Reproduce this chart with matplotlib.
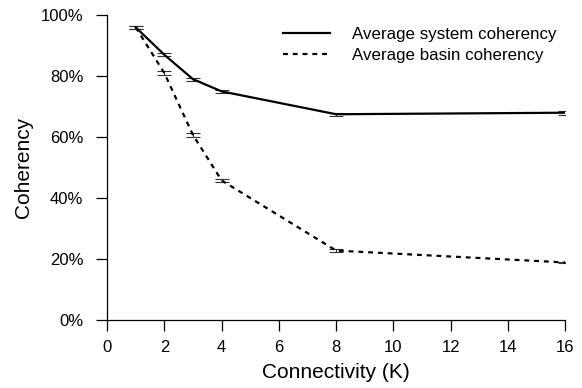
import matplotlib
matplotlib.use("Agg")
import matplotlib.pyplot as plt
from matplotlib.ticker import FuncFormatter
from matplotlib.lines import Line2D

plt.rcParams['font.family'] = ['Liberation Sans', 'DejaVu Sans']

k = [1, 2, 3, 4, 8, 16]
system = [96.0, 87.0, 79.0, 75.0, 67.5, 68.0]
system_err = [0.5, 0.5, 0.5, 0.5, 0.5, 0.6]
basin = [96.0, 81.0, 60.7, 45.8, 22.8, 18.9]
basin_err = [0.5, 0.6, 0.5, 0.6, 0.4, 0.3]

fig = plt.figure(figsize=(5.82, 3.88), dpi=100)
ax = fig.add_axes([0.184, 0.175, 0.787, 0.786])

ax.errorbar(k, system, yerr=system_err, color='black', lw=1.6, ls='-',
            capsize=5, elinewidth=0.8, capthick=0.8, ecolor='#333333')
ax.errorbar(k, basin, yerr=basin_err, color='black', lw=1.6, ls=(0, (2.2, 2.2)),
            capsize=5, elinewidth=0.8, capthick=0.8, ecolor='#333333')

ax.set_xlim(0, 16)
ax.set_ylim(0, 100)
ax.set_xticks(range(0, 17, 2))
ax.set_yticks(range(0, 101, 20))
ax.yaxis.set_major_formatter(FuncFormatter(lambda v, p: f'{int(v)}%'))
ax.tick_params(direction='out', length=8, width=0.9, labelsize=12)
ax.tick_params(axis='y', pad=9)
ax.tick_params(axis='x', pad=6)
for s in ['top', 'right']:
    ax.spines[s].set_visible(False)
for s in ['left', 'bottom']:
    ax.spines[s].set_linewidth(0.9)

ax.set_xlabel('Connectivity (K)', fontsize=15, labelpad=6)
ax.set_ylabel('Coherency', fontsize=15, labelpad=6)

handles = [Line2D([], [], color='black', lw=1.6, ls='-'),
           Line2D([], [], color='black', lw=1.6, ls=(0, (2.2, 2.2)))]
ax.legend(handles, ['Average system coherency', 'Average basin coherency'],
          frameon=False, loc='upper right', fontsize=12.2, handlelength=2.8,
          handletextpad=1.3, labelspacing=0.35, bbox_to_anchor=(1.015, 1.01))

fig.savefig('out.png', dpi=100)
